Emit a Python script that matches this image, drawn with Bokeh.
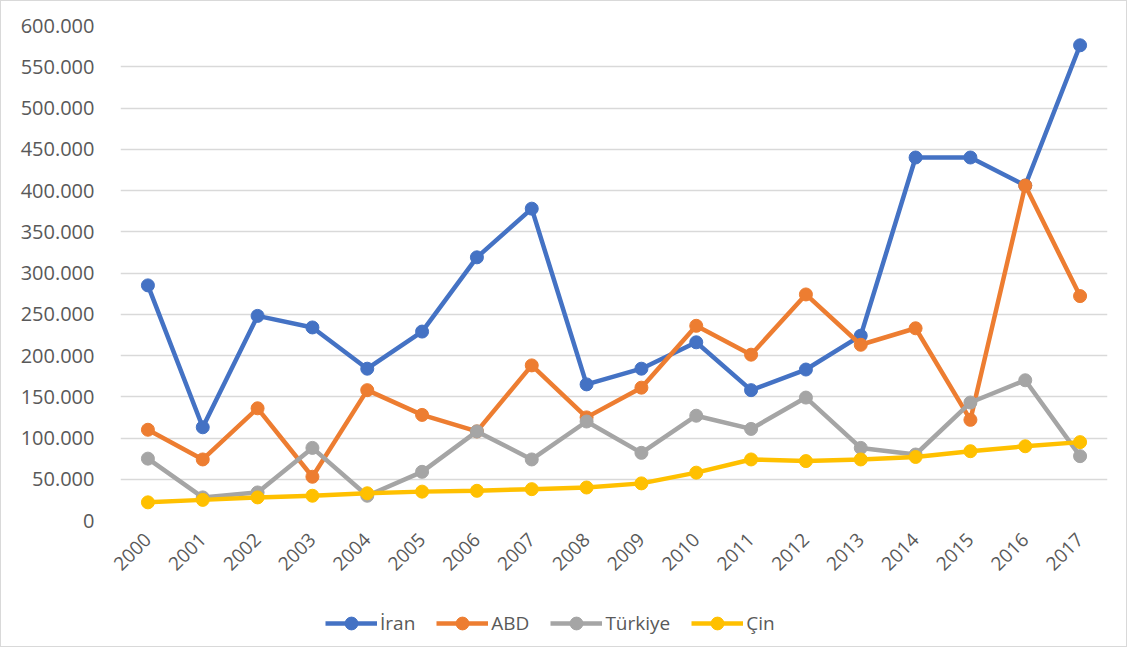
from bokeh.plotting import figure
from bokeh.layouts import column
from bokeh.models import FactorRange, Range1d, FixedTicker, CustomJSTickFormatter, Legend, LegendItem
from bokeh.embed import file_html
from bokeh.resources import INLINE
import math

years = [str(y) for y in range(2000, 2018)]
iran = [285000, 113000, 248000, 234000, 184000, 229000, 319000, 378000, 165000, 184000,
        216000, 158000, 183000, 224000, 440000, 440000, 406000, 576000]
abd = [110000, 74000, 136000, 53000, 158000, 128000, 108000, 188000, 125000, 161000,
       236000, 201000, 274000, 213000, 233000, 122000, 406000, 272000]
turkiye = [75000, 28000, 34000, 88000, 30000, 59000, 108000, 74000, 120000, 82000,
           127000, 111000, 149000, 88000, 80000, 143000, 170000, 78000]
cin = [22000, 25000, 28000, 30000, 33000, 35000, 36000, 38000, 40000, 45000,
       58000, 74000, 72000, 74000, 77000, 84000, 90000, 95000]
y_ticks = [0, 50000, 100000, 150000, 200000, 250000, 300000, 350000, 400000, 450000,
           500000, 550000, 600000]

series = [("İran", iran, "#4472C4"), ("ABD", abd, "#ED7D31"),
          ("Türkiye", turkiye, "#A5A5A5"), ("Çin", cin, "#FFC000")]

FONT = "Open Sans"
TXT = "#595959"
W = 1125
H2 = 50

p = figure(width=W, height=645 - H2, x_range=FactorRange(*years),
           y_range=Range1d(0, 600000), output_backend="svg", toolbar_location=None,
           min_border_left=119, min_border_right=19, min_border_top=24,
           min_border_bottom=645 - H2 - 24 - 495)
p.outline_line_color = None
p.xgrid.grid_line_color = None
p.ygrid.grid_line_color = "#D9D9D9"
p.ygrid.grid_line_width = 1.5

p.yaxis.ticker = FixedTicker(ticks=y_ticks)
p.yaxis.formatter = CustomJSTickFormatter(code="""
const s = Math.round(tick).toString();
return s.replace(/\\B(?=(\\d{3})+(?!\\d))/g, '.');
""")
for ax in (p.xaxis[0], p.yaxis[0]):
    ax.axis_line_color = None
    ax.major_tick_line_color = None
    ax.minor_tick_line_color = None
    ax.major_label_text_font = FONT
    ax.major_label_text_color = TXT
p.yaxis.major_label_text_font_size = "20px"
p.xaxis.major_label_text_font_size = "19px"
p.yaxis.major_label_standoff = 20
p.xaxis.major_label_standoff = 10
p.xaxis.major_label_orientation = math.pi / 4

for name, vals, col in series:
    p.line(years, vals, line_color=col, line_width=4.5)
    p.scatter(years, vals, size=13, fill_color=col, line_color=col)

# legend strip below the chart (its renderers sit outside the visible range)
p2 = figure(width=W, height=H2, x_range=Range1d(0, 1), y_range=Range1d(0, 1),
            output_backend="svg", toolbar_location=None,
            min_border_left=0, min_border_right=0, min_border_top=0, min_border_bottom=0)
p2.axis.visible = False
p2.grid.visible = False
p2.outline_line_color = None
items = []
for name, vals, col in series:
    l = p2.line([5, 6], [5, 6], line_color=col, line_width=4.5)
    s = p2.scatter([5], [5], size=13, fill_color=col, line_color=col)
    items.append(LegendItem(label=name, renderers=[l, s]))
legend = Legend(items=items, orientation="horizontal", location=(205, 7),
                label_text_font=FONT, label_text_font_size="19px", label_text_color=TXT,
                glyph_width=52, glyph_height=32, spacing=21, padding=0, margin=0,
                border_line_color=None, background_fill_alpha=0, label_standoff=3)
p2.add_layout(legend)

layout = column(p, p2, spacing=0, styles={"border": "1px solid #D9D9D9"})

open("out.html", "w").write(file_html(layout, INLINE))
